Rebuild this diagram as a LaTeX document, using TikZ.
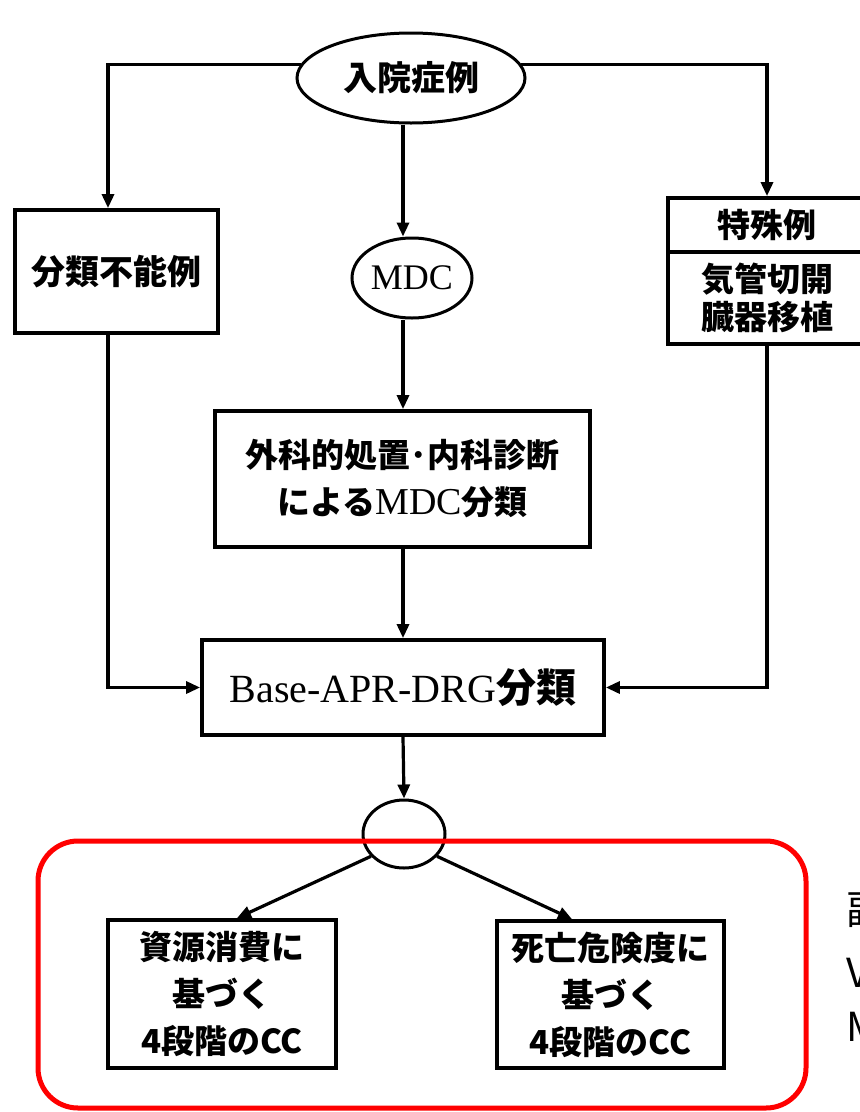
\documentclass[tikz,border=0pt]{standalone}
\usepackage{fontspec}
\usetikzlibrary{arrows.meta,shapes.geometric}
\newfontfamily\jp{Noto Sans CJK JP}
\newfontfamily\tms{Liberation Serif}
\tikzset{
  box/.style={draw, line width=3.8pt, inner sep=0pt, align=center,
    font=\jp\bfseries\fontsize{33}{47}\selectfont},
  ell/.style={draw, ellipse, line width=3pt, inner sep=0pt},
  arr/.style={line width=3.2pt, -{Triangle[length=14pt,width=12pt]}},
  grpframe/.style={draw=red, line width=5pt, rounded corners=40pt, inner sep=0pt},
  sidetext/.style={anchor=west, inner sep=0pt, font=\jp\fontsize{40}{40}\selectfont}
}
\begin{document}
\begin{tikzpicture}[x=1pt,y=-1pt]
\useasboundingbox (0,0) rectangle (860,1112);
\fill[white] (0,0) rectangle (860,1112);

\coordinate (cL) at (108,0);
\coordinate (cM) at (403,0);

\node[ell, minimum width=228pt, minimum height=90pt, font=\jp\bfseries\fontsize{34}{40}\selectfont] (start) at (411,78) {入院症例};
\node[ell, minimum width=120pt, minimum height=80pt, font=\tms\fontsize{36}{40}\selectfont] (mdc) at (412,278) {MDC};
\node[box, minimum width=203pt, minimum height=123pt, font=\jp\bfseries\fontsize{34}{47}\selectfont] (unc) at (116.5,271.5) {分類不能例};
\node[box, minimum width=198pt, minimum height=54pt] (sp1) at (767,225) {特殊例};
\node[box, minimum width=198pt, minimum height=92pt, font=\jp\bfseries\fontsize{33}{38}\selectfont] (sp2) at (767,298) {気管切開\\臓器移植};
\node[box, minimum width=375pt, minimum height=136pt] (surg) at (402.5,479) {外科的処置･内科診断\\による{\tms\mdseries\fontsize{38}{47}\selectfont MDC}分類};
\node[box, minimum width=402pt, minimum height=95pt, font=\jp\bfseries\fontsize{40}{46}\selectfont] (base) at (403,687.5) {{\tms\mdseries Base-APR-DRG}分類};
\node[ell, minimum width=82pt, minimum height=68pt] (circ) at (404,834) {};
\node[box, minimum width=228pt, minimum height=148pt] (cc1) at (222,994) {資源消費に\\基づく\\4段階のCC};
\node[box, minimum width=227pt, minimum height=147pt] (cc2) at (610.5,994.5) {死亡危険度に\\基づく\\4段階のCC};

\node[grpframe, minimum width=768pt, minimum height=267pt] (grp) at (422,974.5) {};

\node[sidetext] (r1) at (846,910) {副};
\node[sidetext] (r2) at (846,973) {V};
\node[sidetext] (r3) at (846,1027) {M};

\draw[arr] (start.173) -| (unc.north -| cL);
\draw[arr] (start.7) -| (sp1.north);
\draw[arr] (start.south -| cM) -- (mdc.north -| cM);
\draw[arr] (mdc.south -| cM) -- (surg.north -| cM);
\draw[arr] (surg.south -| cM) -- (base.north -| cM);
\draw[arr] (base.south -| cM) -- (circ.north);
\draw[arr] (unc.south -| cL) |- (base.west);
\draw[arr] (sp2.south) |- (base.east);
\draw[arr] (circ.214) -- ([xshift=15pt]cc1.north);
\draw[arr] (circ.326) -- ([xshift=-38.5pt]cc2.north);
\end{tikzpicture}
\end{document}
